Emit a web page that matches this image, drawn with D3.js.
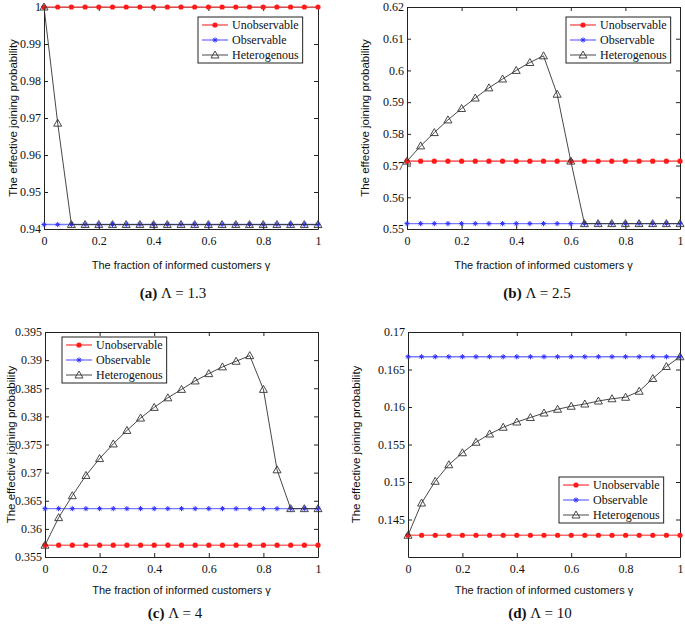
<!DOCTYPE html>
<html><head><meta charset="utf-8">
<script src="https://cdn.jsdelivr.net/npm/d3@7"></script>
<style>
body{margin:0;background:#fff;}
svg{display:block;}
</style></head>
<body>
<svg id="chart" width="685" height="625"></svg>
<script>
// ---------- DATA ----------
const gamma = [0,0.05,0.1,0.15,0.2,0.25,0.3,0.35,0.4,0.45,0.5,0.55,0.6,0.65,0.7,0.75,0.8,0.85,0.9,0.95,1];
const seriesNames = ["Unobservable","Observable","Heterogenous"];
const xTicks = [0,0.2,0.4,0.6,0.8,1];

// (a) Lambda = 1.3
const unobsA = [1,1,1,1,1,1,1,1,1,1,1,1,1,1,1,1,1,1,1,1,1];
const obsA = [0.9412,0.9412,0.9412,0.9412,0.9412,0.9412,0.9412,0.9412,0.9412,0.9412,0.9412,0.9412,0.9412,0.9412,0.9412,0.9412,0.9412,0.9412,0.9412,0.9412,0.9412];
const hetA = [1,0.9686,0.9412,0.9412,0.9412,0.9412,0.9412,0.9412,0.9412,0.9412,0.9412,0.9412,0.9412,0.9412,0.9412,0.9412,0.9412,0.9412,0.9412,0.9412,0.9412];
const yTicksA = [0.94,0.95,0.96,0.97,0.98,0.99,1];

// (b) Lambda = 2.5
const unobsB = [0.5714,0.5714,0.5714,0.5714,0.5714,0.5714,0.5714,0.5714,0.5714,0.5714,0.5714,0.5714,0.5714,0.5714,0.5714,0.5714,0.5714,0.5714,0.5714,0.5714,0.5714];
const obsB = [0.5517,0.5517,0.5517,0.5517,0.5517,0.5517,0.5517,0.5517,0.5517,0.5517,0.5517,0.5517,0.5517,0.5517,0.5517,0.5517,0.5517,0.5517,0.5517,0.5517,0.5517];
const hetB = [0.5714,0.5762,0.5804,0.5844,0.5880,0.5913,0.5945,0.5973,0.6000,0.6025,0.6046,0.5925,0.5714,0.5517,0.5517,0.5517,0.5517,0.5517,0.5517,0.5517,0.5517];
const yTicksB = [0.55,0.56,0.57,0.58,0.59,0.6,0.61,0.62];

// (c) Lambda = 4
const unobsC = [0.3571,0.3571,0.3571,0.3571,0.3571,0.3571,0.3571,0.3571,0.3571,0.3571,0.3571,0.3571,0.3571,0.3571,0.3571,0.3571,0.3571,0.3571,0.3571,0.3571,0.3571];
const obsC = [0.3636,0.3636,0.3636,0.3636,0.3636,0.3636,0.3636,0.3636,0.3636,0.3636,0.3636,0.3636,0.3636,0.3636,0.3636,0.3636,0.3636,0.3636,0.3636,0.3636,0.3636];
const hetC = [0.3571,0.3620,0.3659,0.3695,0.3725,0.3751,0.3775,0.3797,0.3816,0.3833,0.3848,0.3863,0.3876,0.3888,0.3898,0.3908,0.3848,0.3705,0.3636,0.3636,0.3636];
const yTicksC = [0.355,0.36,0.365,0.37,0.375,0.38,0.385,0.39,0.395];

// (d) Lambda = 10
const unobsD = [0.1429,0.1429,0.1429,0.1429,0.1429,0.1429,0.1429,0.1429,0.1429,0.1429,0.1429,0.1429,0.1429,0.1429,0.1429,0.1429,0.1429,0.1429,0.1429,0.1429,0.1429];
const obsD = [0.1667,0.1667,0.1667,0.1667,0.1667,0.1667,0.1667,0.1667,0.1667,0.1667,0.1667,0.1667,0.1667,0.1667,0.1667,0.1667,0.1667,0.1667,0.1667,0.1667,0.1667];
const hetD = [0.1429,0.1472,0.1501,0.1523,0.1539,0.1553,0.1564,0.1573,0.1580,0.1586,0.1592,0.1597,0.1601,0.1604,0.1608,0.1611,0.1613,0.1621,0.1638,0.1654,0.1667];
const yTicksD = [0.145,0.15,0.155,0.16,0.165,0.17];

const captionLetters = ["(a)","(b)","(c)","(d)"];
const captionValues = ["1.3","2.5","4","10"];
const xTitle = "The fraction of informed customers \u03b3";
const yTitle = "The effective joining probability";

// ---------- LAYOUT ----------
const panels = [
  {unobs:unobsA, obs:obsA, het:hetA, yTicks:yTicksA, yDomain:[0.94,1],
   left:44, right:318, top:7, bottom:229, yTitleX:13, xTitleY:269, capY:298, capX:173,
   legend:{x:198, y:17}},
  {unobs:unobsB, obs:obsB, het:hetB, yTicks:yTicksB, yDomain:[0.55,0.62],
   left:407, right:680, top:7, bottom:229, yTitleX:365, xTitleY:269, capY:298, capX:537,
   legend:{x:566, y:17}},
  {unobs:unobsC, obs:obsC, het:hetC, yTicks:yTicksC, yDomain:[0.355,0.395],
   left:45, right:318, top:332, bottom:557, yTitleX:11, xTitleY:594, capY:618, capX:175,
   legend:{x:62, y:337}},
  {unobs:unobsD, obs:obsD, het:hetD, yTicks:yTicksD, yDomain:[0.14,0.17],
   left:408, right:680, top:332, bottom:557, yTitleX:356, xTitleY:594, capY:618, capX:540,
   legend:{x:559, y:477}}
];

const serif = "'Liberation Serif','Times New Roman',serif";
const sans = "'Liberation Sans',Arial,sans-serif";
const redLine = "#ff6a6a", redDot = "#ff1a1a";
const blueLine = "#7a7aff", blueMark = "#3030ff";
const hetColor = "#333";

const svg = d3.select("#chart");

function starPath(s){
  const d = s*0.7;
  return `M${-s},0L${s},0M0,${-s}L0,${s}M${-d},${-d}L${d},${d}M${-d},${d}L${d},${-d}`;
}
function triPath(s){
  return `M0,${-s}L${s*1.0},${s*0.75}L${-s*1.0},${s*0.75}Z`;
}

function drawMarker(g, type, x, y){
  if(type===0){
    g.append("circle").attr("cx",x).attr("cy",y).attr("r",2.6).attr("fill",redDot).attr("stroke","none");
  } else if(type===1){
    g.append("path").attr("d",starPath(2.6)).attr("transform",`translate(${x},${y})`)
      .attr("stroke",blueMark).attr("stroke-width",1).attr("fill","none");
  } else {
    g.append("path").attr("d",triPath(4)).attr("transform",`translate(${x},${y})`)
      .attr("stroke",hetColor).attr("stroke-width",0.9).attr("fill","none");
  }
}

const fmt = v => String(+v.toFixed(3));

panels.forEach((p,i)=>{
  const g = svg.append("g");
  const x = d3.scaleLinear().domain([0,1]).range([p.left,p.right]);
  const y = d3.scaleLinear().domain(p.yDomain).range([p.bottom,p.top]);

  const tk = 4;
  const axB = d3.axisBottom(x).tickValues(xTicks).tickSizeInner(-tk).tickSizeOuter(0).tickPadding(7).tickFormat(fmt);
  const axT = d3.axisTop(x).tickValues(xTicks).tickSizeInner(-tk).tickSizeOuter(0).tickFormat("");
  const axL = d3.axisLeft(y).tickValues(p.yTicks).tickSizeInner(-tk).tickSizeOuter(0).tickPadding(3).tickFormat(fmt);
  const axR = d3.axisRight(y).tickValues(p.yTicks).tickSizeInner(-tk).tickSizeOuter(0).tickFormat("");

  const styleAxis = sel => {
    sel.selectAll("path").attr("stroke","#222").attr("stroke-width",1);
    sel.selectAll("line").attr("stroke","#222").attr("stroke-width",1);
    sel.selectAll("text").attr("font-family",serif).attr("font-size",12).attr("fill","#111");
  };
  g.append("g").attr("transform",`translate(0,${p.bottom})`).call(axB).call(styleAxis);
  g.append("g").attr("transform",`translate(0,${p.top})`).call(axT).call(styleAxis);
  g.append("g").attr("transform",`translate(${p.left},0)`).call(axL).call(styleAxis);
  g.append("g").attr("transform",`translate(${p.right},0)`).call(axR).call(styleAxis);

  g.append("text").attr("x",(p.left+p.right)/2).attr("y",p.xTitleY).attr("text-anchor","middle")
    .attr("font-family",sans).attr("font-size",11).attr("fill","#111").text(xTitle);
  g.append("text").attr("transform",`translate(${p.yTitleX},${(p.top+p.bottom)/2}) rotate(-90)`)
    .attr("text-anchor","middle").attr("dominant-baseline","central")
    .attr("font-family",sans).attr("font-size",11.5).attr("fill","#111").text(yTitle);

  const cap = g.append("text").attr("x",p.capX).attr("y",p.capY).attr("text-anchor","middle")
    .attr("font-family",serif).attr("font-size",15).attr("fill","#111");
  cap.append("tspan").attr("font-weight","bold").text(captionLetters[i]);
  cap.append("tspan").text(" \u039b = " + captionValues[i]);

  const series = [p.unobs, p.obs, p.het];
  const lineStyles = [
    {c:redLine, w:1.6},
    {c:blueLine, w:1.4},
    {c:hetColor, w:0.9}
  ];
  series.forEach((vals,k)=>{
    const pts = gamma.map((gv,j)=>[x(gv), y(vals[j])]);
    g.append("path").attr("d",d3.line()(pts)).attr("fill","none")
      .attr("stroke",lineStyles[k].c).attr("stroke-width",lineStyles[k].w);
    const mg = g.append("g");
    pts.forEach(pt=>drawMarker(mg,k,pt[0],pt[1]));
  });

  const lg = g.append("g").attr("transform",`translate(${p.legend.x},${p.legend.y})`);
  const box = lg.append("rect").attr("fill","#fff").attr("stroke","#222").attr("stroke-width",1);
  let maxW = 0;
  seriesNames.forEach((nm,k)=>{
    const cy = 8 + k*15;
    lg.append("line").attr("x1",4).attr("x2",30).attr("y1",cy).attr("y2",cy)
      .attr("stroke",lineStyles[k].c).attr("stroke-width",lineStyles[k].w);
    drawMarker(lg,k,17,cy);
    const t = lg.append("text").attr("x",34).attr("y",cy).attr("dominant-baseline","central")
      .attr("font-family",serif).attr("font-size",12).attr("fill","#111").text(nm);
    maxW = Math.max(maxW, t.node().getComputedTextLength());
  });
  box.attr("x",0).attr("y",0).attr("width",34+maxW+4).attr("height",46);
});
</script>
</body></html>
